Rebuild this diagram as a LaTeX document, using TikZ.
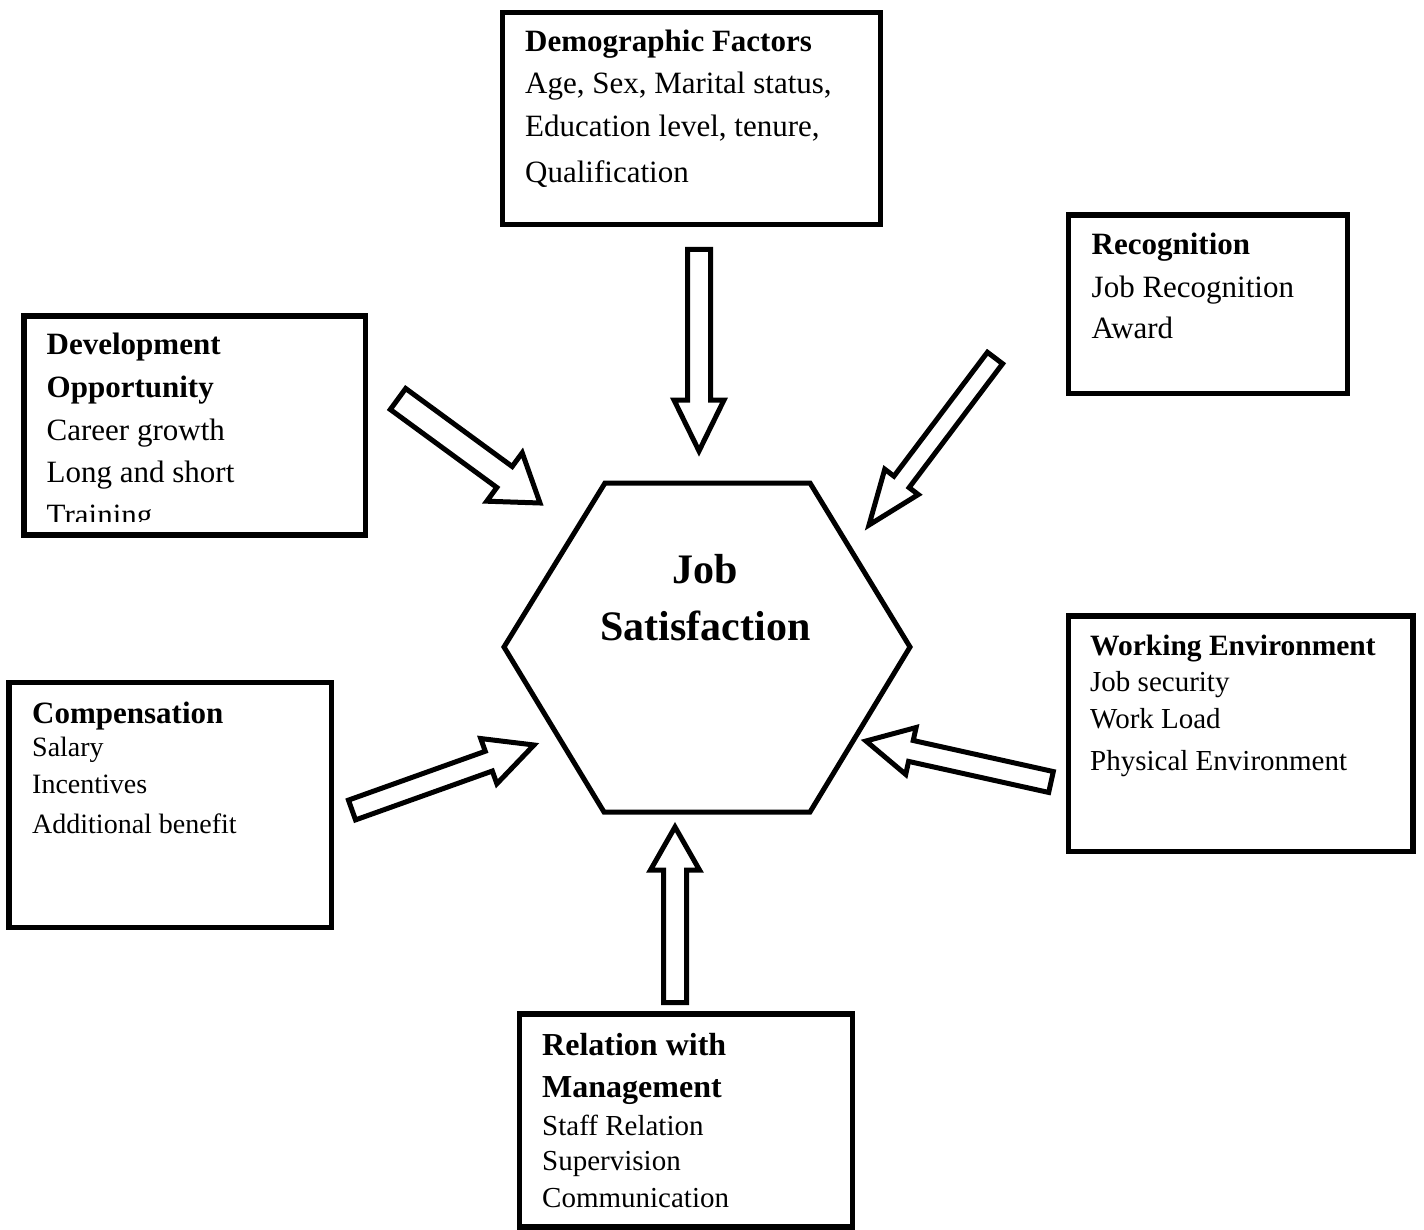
\documentclass[tikz,border=0pt]{standalone}
\usepackage{fontspec}
\setmainfont{Liberation Serif}
\usetikzlibrary{calc,fit}
\tikzset{
  box/.style={draw, line width=5.6pt, inner sep=0pt},
  hd/.style={anchor=base west, inner sep=0pt, font=\fontsize{#1}{#1}\selectfont\bfseries},
  it/.style={anchor=base west, inner sep=0pt, font=\fontsize{#1}{#1}\selectfont},
  blk/.style={draw, line width=5pt, fill=white, line join=miter, miter limit=20},
  hexline/.style={draw, line width=5pt, line join=miter},
}
% #1 name, #2 tail, #3 tip, #4 shaft half width, #5 head half width, #6 head length
\newcommand\blkarrow[6]{%
  \coordinate (#1-b) at ($(#3)!#6!(#2)$);
  \draw[blk] ($(#2)!#4!90:(#3)$) -- ($(#1-b)!#4!90:(#3)$) -- ($(#1-b)!#5!90:(#3)$)
    -- (#3) -- ($(#1-b)!#5!-90:(#3)$) -- ($(#1-b)!#4!-90:(#3)$) -- ($(#2)!#4!-90:(#3)$) -- cycle;
}
\begin{document}
\begin{tikzpicture}[x=1pt,y=-1pt]
\useasboundingbox (0,0) rectangle (1424,1230);
\fill[white] (0,0) rectangle (1424,1230);

% boxes
\node[box, fit={(502.5,12.5) (880.5,224.5)}] (dem) {};
\node[box, fit={(1068.5,215) (1347.5,393.5)}] (rec) {};
\node[box, fit={(24,316) (365.5,535)}] (dev) {};
\node[box, fit={(9,682.5) (331.5,927.5)}] (comp) {};
\node[box, fit={(1068.5,616) (1413,851.5)}] (work) {};
\node[box, fit={(519.5,1014) (852.5,1227)}] (rel) {};

% Demographic
\node[hd=31] (dem1) at (525,52) {Demographic Factors};
\node[it=31] (dem2) at (525,94) {Age, Sex, Marital status,};
\node[it=31] (dem3) at (525,137) {Education level, tenure,};
\node[it=31] (dem4) at (525,183) {Qualification};

% Recognition
\node[hd=31] (rec1) at (1091.5,255) {Recognition};
\node[it=31] (rec2) at (1091.5,298) {Job Recognition};
\node[it=31] (rec3) at (1091.5,339) {Award};

% Development
\node[hd=31] (dev1) at (46.5,355) {Development};
\node[hd=31] (dev2) at (46.5,397) {Opportunity};
\node[it=31] (dev3) at (46.5,440) {Career growth};
\node[it=31] (dev4) at (46.5,482.5) {Long and short};
\begin{scope}
  \clip (26,316) rectangle (363,521);
  \node[it=31] (dev5) at (46.5,525) {Training};
\end{scope}

% Compensation
\node[hd=31] (comp1) at (32,723) {Compensation};
\node[it=28] (comp2) at (32,756) {Salary};
\node[it=28] (comp3) at (32,793) {Incentives};
\node[it=28] (comp4) at (32,833) {Additional benefit};

% Working Environment
\node[hd=29.5] (work1) at (1090,655) {Working Environment};
\node[it=29] (work2) at (1090,691) {Job security};
\node[it=29] (work3) at (1090,728.5) {Work Load};
\node[it=29] (work4) at (1090,770.5) {Physical Environment};

% Relation with Management
\node[hd=32] (rel1) at (542,1055) {Relation with};
\node[hd=32] (rel2) at (542,1097) {Management};
\node[it=29] (rel3) at (542,1135) {Staff Relation};
\node[it=29] (rel4) at (542,1170) {Supervision};
\node[it=29] (rel5) at (542,1207) {Communication};

% hexagon
\coordinate (h1) at (605,483);
\coordinate (h2) at (810,483);
\coordinate (h3) at (910,647);
\coordinate (h4) at (810,812);
\coordinate (h5) at (604,812);
\coordinate (h6) at (504,647);
\draw[hexline] (h1) -- (h2) -- (h3) -- (h4) -- (h5) -- (h6) -- cycle;
\node[anchor=base, inner sep=0pt, font=\fontsize{42}{42}\selectfont\bfseries] (js1) at (705.5,583) {Job};
\node[anchor=base, inner sep=0pt, font=\fontsize{42}{42}\selectfont\bfseries] (js2) at (705.5,640) {Satisfaction};

% arrow end points
\coordinate (demT) at (699,249.5);  \coordinate (demH) at (699,451);
\coordinate (relT) at (675,1002.5); \coordinate (relH) at (675,827);
\coordinate (devT) at (398,399);    \coordinate (devH) at (540,503);
\coordinate (recT) at (995,358);    \coordinate (recH) at (869,525);
\coordinate (compT) at (352,810);   \coordinate (compH) at (534,745);
\coordinate (workT) at (1051,782);  \coordinate (workH) at (866,741);

\blkarrow{ad}{demT}{demH}{11.5pt}{25pt}{51pt}
\blkarrow{ar}{relT}{relH}{11.5pt}{24.5pt}{43pt}
\blkarrow{av}{devT}{devH}{13pt}{30pt}{44pt}
\blkarrow{ac}{recT}{recH}{9.5pt}{21pt}{54pt}
\blkarrow{ap}{compT}{compH}{10.5pt}{24pt}{48pt}
\blkarrow{aw}{workT}{workH}{10.7pt}{24pt}{46pt}
\end{tikzpicture}
\end{document}
